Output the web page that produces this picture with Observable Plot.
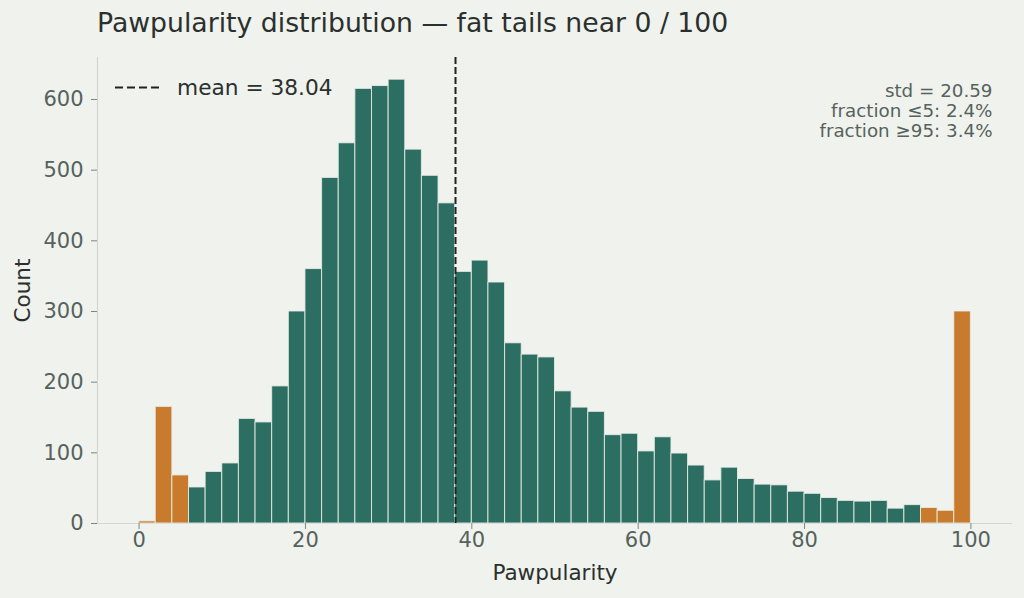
<!DOCTYPE html>
<html>
<head>
<meta charset="utf-8">
<script src="https://cdn.jsdelivr.net/npm/d3@7"></script>
<script src="https://cdn.jsdelivr.net/npm/@observablehq/plot@0.6"></script>
<style>
  html, body { margin: 0; padding: 0; background: #f0f2ee; }
  body { width: 1024px; height: 598px; position: relative; overflow: hidden; font-family: "DejaVu Sans", sans-serif; }
  #chart { position: absolute; left: 0; top: 40px; }
  #overlay { position: absolute; left: 0; top: 0; pointer-events: none; }
</style>
</head>
<body>
<svg id="overlay" width="1024" height="598"></svg>
<div id="chart"></div>
<script>
// ---- data ----
const binStart = [0, 2, 4, 6, 8, 10, 12, 14, 16, 18, 20, 22, 24, 26, 28, 30, 32, 34, 36, 38,
                  40, 42, 44, 46, 48, 50, 52, 54, 56, 58, 60, 62, 64, 66, 68, 70, 72, 74, 76, 78,
                  80, 82, 84, 86, 88, 90, 92, 94, 96, 98];
const binEnd   = [2, 4, 6, 8, 10, 12, 14, 16, 18, 20, 22, 24, 26, 28, 30, 32, 34, 36, 38, 40,
                  42, 44, 46, 48, 50, 52, 54, 56, 58, 60, 62, 64, 66, 68, 70, 72, 74, 76, 78, 80,
                  82, 84, 86, 88, 90, 92, 94, 96, 98, 100];
const counts   = [3, 165, 68, 51, 73, 85, 148, 143, 194, 300,
                  360, 489, 538, 615, 619, 628, 529, 492, 453, 356,
                  372, 341, 255, 239, 235, 187, 164, 158, 125, 127,
                  102, 122, 99, 82, 61, 79, 63, 55, 54, 45,
                  42, 36, 32, 31, 32, 21, 26, 22, 18, 300];
const meanValue = 38.04;
const stdValue = 20.59;
const fracLow = 2.4;   // fraction <= 5 (%)
const fracHigh = 3.4;  // fraction >= 95 (%)
const lowCut = 5;
const highCut = 95;
const xTicks = [0, 20, 40, 60, 80, 100];
const yTicks = [0, 100, 200, 300, 400, 500, 600];

const titleText = "Pawpularity distribution \u2014 fat tails near 0 / 100";
const xLabel = "Pawpularity";
const yLabel = "Count";
const legendLabel = "mean = " + meanValue.toFixed(2);
const annotation = [
  "std = " + stdValue.toFixed(2),
  "fraction \u22645: " + fracLow.toFixed(1) + "%",
  "fraction \u226595: " + fracHigh.toFixed(1) + "%"
].join("\n");

// ---- styles ----
const green = "#2d6e63";
const orange = "#c97b2d";
const spine = "#d3d7d2";
const tickGray = "#7d8781";
const tickText = "#56625c";
const dark = "#2b302d";

const data = binStart.map((x, i) => ({
  x1: x, x2: binEnd[i], count: counts[i],
  tail: x < lowCut || binEnd[i] > highCut
}));

const chart = Plot.plot({
  width: 1024,
  height: 558,
  marginLeft: 97,
  marginRight: 12,
  marginTop: 17,
  marginBottom: 75,
  style: { background: "transparent", fontFamily: "DejaVu Sans, sans-serif", overflow: "visible" },
  x: { domain: [-5, 105] },
  y: { domain: [0, 659.4] },
  marks: [
    Plot.ruleY([0], { stroke: spine, strokeWidth: 1.2 }),
    Plot.ruleX([-5], { stroke: spine, strokeWidth: 1.2 }),
    Plot.rectY(data, {
      x1: "x1", x2: "x2", y1: 0, y2: "count",
      fill: d => d.tail ? orange : green,
      stroke: "#e9eee9", strokeWidth: 1, strokeOpacity: 0.85,
      inset: 0
    }),
    Plot.ruleX([meanValue], { stroke: "#222", strokeWidth: 2, strokeDasharray: "7,3" }),
    Plot.axisX({ ticks: xTicks, tickSize: 6, tickPadding: 3, fontSize: 21, stroke: tickGray, fill: tickText, label: null }),
    Plot.axisY({ ticks: yTicks, tickSize: 6, tickPadding: 8, fontSize: 21, stroke: tickGray, fill: tickText, label: null }),
    Plot.text([xLabel], { text: d => d, frameAnchor: "bottom", dy: 50, fontSize: 21.5, fill: dark, lineAnchor: "middle" }),
    Plot.text([yLabel], { text: d => d, frameAnchor: "left", dx: -74.5, rotate: -90, fontSize: 21.5, fill: dark, textAnchor: "middle", lineAnchor: "middle" }),
    Plot.text([annotation], { text: d => d, frameAnchor: "top-right", dx: -20, dy: 25, textAnchor: "end", lineAnchor: "top", lineHeight: 1.1, fontSize: 18.3, fill: "#56625c" })
  ]
});
document.getElementById("chart").appendChild(chart);

// ---- title & legend overlay ----
const ov = d3.select("#overlay");
ov.append("text").attr("x", 97).attr("y", 32).attr("font-size", 26.7).attr("fill", dark)
  .attr("font-family", "DejaVu Sans, sans-serif").text(titleText);
ov.append("line").attr("x1", 115).attr("x2", 161).attr("y1", 87.5).attr("y2", 87.5)
  .attr("stroke", "#222").attr("stroke-width", 2).attr("stroke-dasharray", "8,4");
ov.append("text").attr("x", 177).attr("y", 94.5).attr("font-size", 21.7).attr("fill", dark)
  .attr("font-family", "DejaVu Sans, sans-serif").text(legendLabel);
</script>
</body>
</html>
